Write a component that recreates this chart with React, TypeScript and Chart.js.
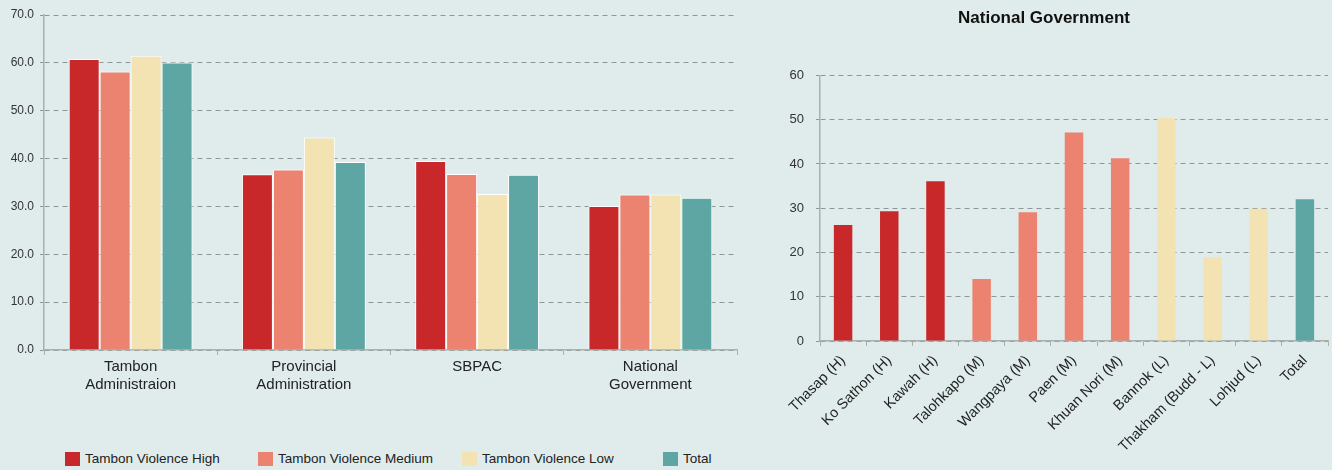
import React, { useEffect, useRef } from "react";
import { Chart, registerables } from "chart.js";

Chart.register(...registerables);

// ---------- Data: left chart ----------
const agencies: string[][] = [
  ["Tambon", "Administraion"],
  ["Provincial", "Administration"],
  ["SBPAC"],
  ["National", "Government"],
];
const seriesNames = [
  "Tambon Violence High",
  "Tambon Violence Medium",
  "Tambon Violence Low",
  "Total",
];
const highValues = [60.8, 36.7, 39.5, 30.1];
const mediumValues = [58.2, 37.7, 36.8, 32.5];
const lowValues = [61.5, 44.4, 32.6, 32.5];
const totalValues = [60.1, 39.3, 36.6, 31.8];
const seriesColors = ["#c8282a", "#ec8270", "#f3e3b2", "#5ea6a3"];

// ---------- Data: right chart ----------
const rightTitle = "National Government";
const villages = [
  "Thasap (H)",
  "Ko Sathon (H)",
  "Kawah (H)",
  "Talohkapo (M)",
  "Wangpaya (M)",
  "Paen (M)",
  "Khuan Nori (M)",
  "Bannok (L)",
  "Thakham (Budd - L)",
  "Lohjud (L)",
  "Total",
];
const villageLevels = [0, 0, 0, 1, 1, 1, 1, 2, 2, 2, 3]; // index into seriesColors
const nationalGovValues = [26.2, 29.3, 36.1, 14.0, 29.1, 47.1, 41.3, 50.4, 18.9, 29.9, 32.0];

const FONT = "'Liberation Sans', Arial, Helvetica, sans-serif";
const BG = "#dfeceb";
const GRID = "#8f9696";
const AXIS = "#aab0b0";
const legendLeft = [65, 258, 462, 663];

export default function App() {
  const leftRef = useRef<HTMLCanvasElement | null>(null);
  const rightRef = useRef<HTMLCanvasElement | null>(null);

  useEffect(() => {
    Chart.defaults.font.family = FONT;
    const seriesValues = [highValues, mediumValues, lowValues, totalValues];

    const left = new Chart(leftRef.current as HTMLCanvasElement, {
      type: "bar",
      data: {
        labels: agencies,
        datasets: seriesNames.map((name, i) => ({
          label: name,
          data: seriesValues[i],
          backgroundColor: seriesColors[i],
          borderColor: "#ffffff",
          borderWidth: 1,
          categoryPercentage: 0.715,
          barPercentage: 1,
        })),
      },
      options: {
        animation: false,
        responsive: false,
        maintainAspectRatio: false,
        layout: { padding: { top: 15, right: 13, left: 0, bottom: 0 } },
        plugins: { legend: { display: false }, tooltip: { enabled: false } },
        scales: {
          x: {
            offset: true,
            grid: {
              offset: true,
              drawOnChartArea: false,
              drawTicks: true,
              tickLength: 5,
              color: AXIS,
            },
            border: { color: AXIS, width: 1.5 },
            ticks: {
              color: "#222",
              font: { family: FONT, size: 15 },
              padding: 3,
              maxRotation: 0,
              autoSkip: false,
            },
            afterFit: (s: any) => {
              s.height = 50;
            },
          },
          y: {
            min: 0,
            max: 70,
            ticks: {
              stepSize: 10,
              callback: (v: any) => Number(v).toFixed(1),
              color: "#333",
              font: { family: FONT, size: 12 },
              padding: 6,
            },
            grid: { color: GRID, tickLength: 4, tickBorderDash: [5, 4] },
            border: { color: AXIS, width: 1.5, dash: [5, 4] },
            afterFit: (s: any) => {
              s.width = 44;
            },
          },
        },
      },
    });

    const right = new Chart(rightRef.current as HTMLCanvasElement, {
      type: "bar",
      data: {
        labels: villages,
        datasets: [
          {
            label: rightTitle,
            data: nationalGovValues,
            backgroundColor: villageLevels.map((l) => seriesColors[l]),
            borderWidth: 0,
            categoryPercentage: 1,
            barPercentage: 0.4,
          },
        ],
      },
      options: {
        animation: false,
        responsive: false,
        maintainAspectRatio: false,
        layout: { padding: { top: 0, right: 4, left: 0, bottom: 0 } },
        plugins: {
          legend: { display: false },
          tooltip: { enabled: false },
          title: {
            display: true,
            text: rightTitle,
            color: "#111",
            font: { family: FONT, size: 17, weight: "bold" },
            padding: { top: 8, bottom: 47 },
          },
        },
        scales: {
          x: {
            offset: true,
            grid: {
              offset: true,
              drawOnChartArea: false,
              drawTicks: true,
              tickLength: 5,
              color: AXIS,
            },
            border: { color: AXIS, width: 1.5 },
            ticks: {
              color: "#222",
              font: { family: FONT, size: 14.5 },
              padding: 6,
              minRotation: 45,
              maxRotation: 45,
              autoSkip: false,
            },
            afterFit: (s: any) => {
              s.height = 129;
            },
          },
          y: {
            min: 0,
            max: 60,
            ticks: {
              stepSize: 10,
              color: "#333",
              font: { family: FONT, size: 13 },
              padding: 12,
            },
            grid: { color: GRID, tickLength: 4, tickBorderDash: [5, 4] },
            border: { color: AXIS, width: 1.5, dash: [5, 4] },
            afterFit: (s: any) => {
              s.width = 60;
            },
          },
        },
      },
    });

    return () => {
      left.destroy();
      right.destroy();
    };
  }, []);

  return (
    <div
      style={{
        position: "fixed",
        left: 0,
        top: 0,
        width: 1332,
        height: 470,
        background: BG,
        overflow: "hidden",
        fontFamily: FONT,
      }}
    >
      <canvas
        ref={leftRef}
        width={750}
        height={400}
        style={{ position: "absolute", left: 0, top: 0, width: 750, height: 400 }}
      />
      <canvas
        ref={rightRef}
        width={572}
        height={470}
        style={{ position: "absolute", left: 760, top: 0, width: 572, height: 470 }}
      />
      {seriesNames.map((name, i) => (
        <div
          key={name}
          style={{
            position: "absolute",
            left: legendLeft[i],
            top: 452,
            display: "flex",
            alignItems: "center",
            whiteSpace: "nowrap",
          }}
        >
          <span
            style={{
              display: "inline-block",
              width: 15,
              height: 14,
              background: seriesColors[i],
              marginRight: 5,
            }}
          />
          <span style={{ fontSize: 13.5, color: "#222", lineHeight: "14px" }}>{name}</span>
        </div>
      ))}
    </div>
  );
}
